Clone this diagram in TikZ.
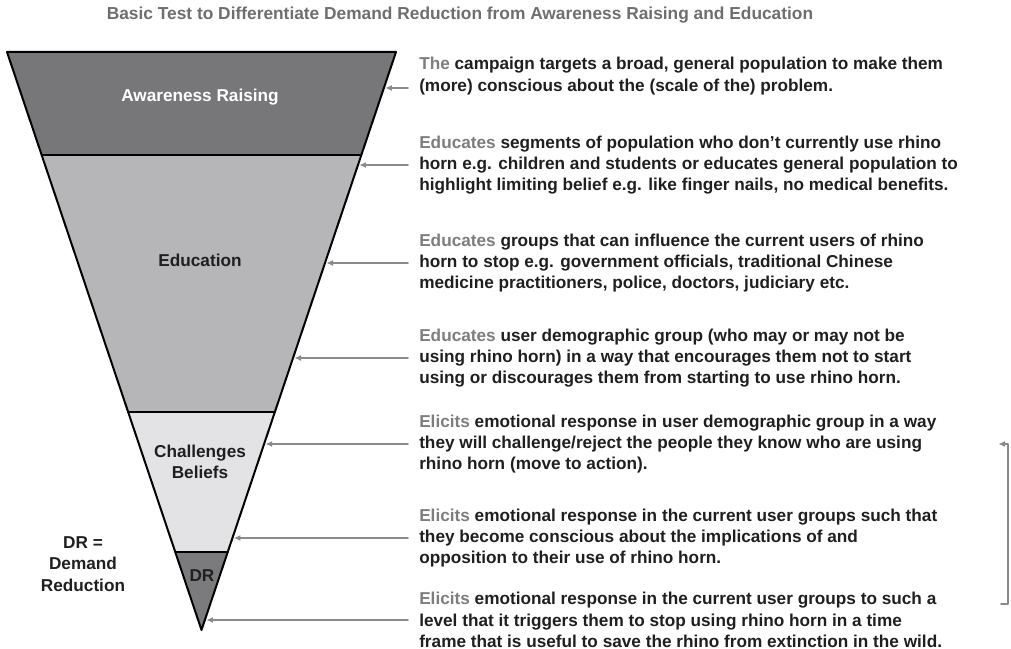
\documentclass[tikz,border=0pt]{standalone}
\usepackage{fontspec}
\setmainfont{Liberation Sans}
\usetikzlibrary{arrows.meta,calc}
\definecolor{xxxxxx}{rgb}{0.467,0.467,0.478}
\definecolor{bwbwbw}{rgb}{0.714,0.714,0.722}
\definecolor{etetet}{rgb}{0.89,0.89,0.898}
\definecolor{xbxbxb}{rgb}{0.482,0.482,0.49}
\definecolor{wewewe}{rgb}{0.43,0.43,0.43}
\definecolor{xdxdxd}{rgb}{0.49,0.49,0.49}
\definecolor{yayaya}{rgb}{0.54,0.54,0.54}
\definecolor{rerere}{rgb}{0.12,0.12,0.12}
\newcommand{\hlw}[1]{{\color{xdxdxd}#1}}
\newcommand{\bodyfont}{\bfseries\fontsize{12.9}{15.9}\selectfont}

\begin{document}
\begin{tikzpicture}[line cap=round,line join=round,x=0.75pt,y=-0.75pt,
  pointer/.style={color=yayaya,line width=1.3pt,shorten >=1pt,
    -{Latex[length=5pt,width=4.5pt]}},
  desc/.style={anchor=west,align=left,inner sep=0pt,color=rerere,
    font=\bodyfont},
  layer/.style={align=center,inner sep=0pt,font=\bodyfont}]
  \useasboundingbox (0,0) rectangle (1011,649);
  \node[color=wewewe,font=\bfseries\fontsize{13}{14}\selectfont] (title)
  at (460,15) {Basic Test to Differentiate Demand Reduction from Awareness
    Raising and Education};
  \coordinate (tl) at (7,52); \coordinate (tr) at (396,52);
  \coordinate (apex) at (201.5,630);
  \foreach \n/\t in {1/0.1782,2/0.6228,3/0.8651} {
    \coordinate (l\n) at ($(tl)!\t!(apex)$);
    \coordinate (r\n) at ($(tr)!\t!(apex)$); }
  \fill[color=xxxxxx] (tl) -- (tr) -- (r1) -- (l1) -- cycle;
  \fill[color=bwbwbw] (l1) -- (r1) -- (r2) -- (l2) -- cycle;
  \fill[color=etetet] (l2) -- (r2) -- (r3) -- (l3) -- cycle;
  \fill[color=xbxbxb] (l3) -- (r3) -- (apex) -- cycle;
  \draw[line width=1.5pt] (tl) -- (tr) -- (apex) -- cycle;
  \draw[line width=1.5pt] (l1) -- (r1); \draw[line width=1.5pt] (l2) --
  (r2); \draw[line width=1.5pt] (l3) -- (r3);
  \node[layer,color=white] (aware) at (200,97) {Awareness Raising};
  \node[layer,color=rerere] (edu) at (200,260) {Education};
  \node[layer,color=rerere] (chal) at (200,462) {Challenges\\Beliefs};
  \node[layer,color=rerere] (dr) at (202,576) {DR};
  \node[layer,color=rerere] (legend) at (83,564) {DR =\\Demand\\Reduction};
  \node[desc] (t1) at (419,76) {\hlw{The} campaign targets a broad, general
    population to make them\\(more) conscious about the (scale of the)
    problem.};
  \node[desc] (t2) at (419,165) {\hlw{Educates} segments of population who
    don’t currently use rhino\\horn e.g. children and students or educates
    general population to\\highlight limiting belief e.g. like finger nails,
    no medical benefits.};
  \node[desc] (t3) at (419,263) {\hlw{Educates} groups that can influence the
    current users of rhino\\horn to stop e.g. government officials,
    traditional Chinese\\medicine practitioners, police, doctors, judiciary
    etc.};
  \node[desc] (t4) at (419,358) {\hlw{Educates} user demographic group (who
    may or may not be\\using rhino horn) in a way that encourages them not
    to start\\using or discourages them from starting to use rhino horn.};
  \node[desc] (t5) at (419,444) {\hlw{Elicits} emotional response in user
    demographic group in a way\\they will challenge/reject the people they
    know who are using\\rhino horn (move to action).};
  \node[desc] (t6) at (419,538) {\hlw{Elicits} emotional response in the
    current user groups such that\\they become conscious about the
    implications of and\\opposition to their use of rhino horn.};
  \node[desc] (t7) at (419,620) {\hlw{Elicits} emotional response in the
    current user groups to such a\\level that it triggers them to stop using
    rhino horn in a time\\frame that is useful to save the rhino from
    extinction in the wild.};
  \foreach \n/\y in {1/88,2/165,3/263,4/358,5/444,6/538,7/620} {
    \coordinate (s\n) at (408,\y);
    \coordinate (e\n) at ($(tr)!{(\y-52)/578}!(apex)$);
    \draw[pointer] (s\n) -- (e\n); }
  \coordinate (bb) at (1001,604); \coordinate (bt) at (997,444);
  \draw[pointer] (bb) -- ++(7,0) |- (bt);
\end{tikzpicture}
\end{document}
